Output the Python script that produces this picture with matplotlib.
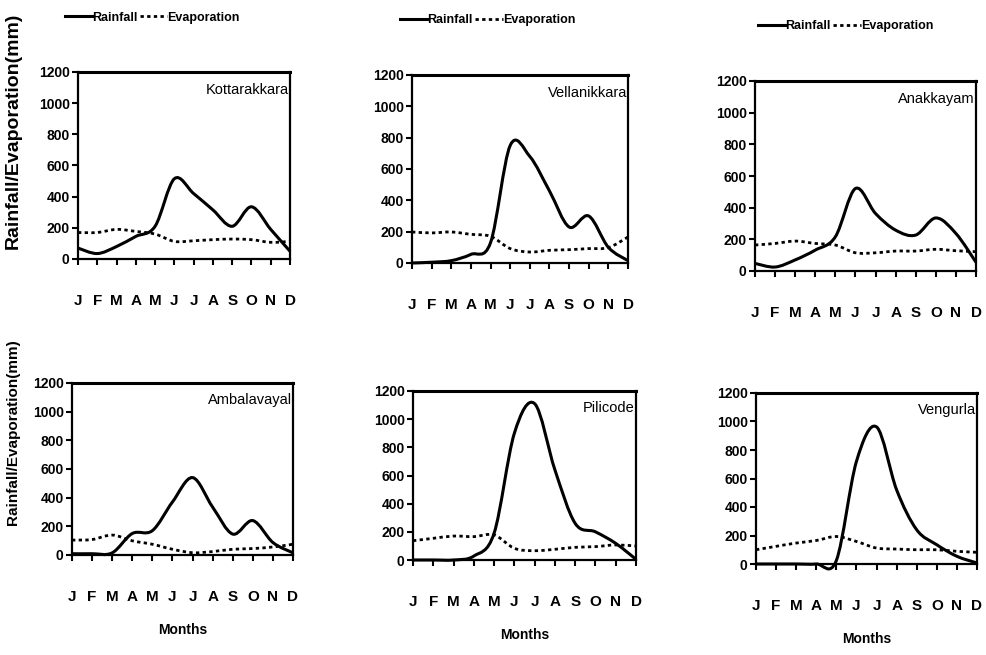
import numpy as np
import matplotlib
matplotlib.use("Agg")
import matplotlib.pyplot as plt
from matplotlib.path import Path
from matplotlib.patches import PathPatch
from matplotlib.lines import Line2D

plt.rcParams['font.family'] = ['Liberation Sans', 'DejaVu Sans']

months = ["J", "F", "M", "A", "M", "J", "J", "A", "S", "O", "N", "D"]
stations = ["Kottarakkara", "Vellanikkara", "Anakkayam",
            "Ambalavayal", "Pilicode", "Vengurla"]

# monthly means (mm)
rain_kottarakkara = [70, 35, 80, 145, 210, 515, 420, 315, 210, 335, 190, 50]
evap_kottarakkara = [170, 170, 190, 177, 160, 113, 117, 124, 128, 124, 107, 113]
rain_vellanikkara = [0, 5, 15, 55, 130, 750, 680, 460, 230, 300, 100, 15]
evap_vellanikkara = [198, 192, 198, 183, 170, 92, 70, 81, 85, 92, 98, 166]
rain_anakkayam = [48, 25, 70, 132, 216, 521, 363, 258, 227, 335, 237, 55]
evap_anakkayam = [164, 174, 189, 174, 164, 115, 115, 126, 126, 137, 128, 122]
rain_ambalavayal = [9, 9, 15, 150, 170, 370, 540, 334, 146, 240, 87, 15]
evap_ambalavayal = [104, 108, 139, 99, 75, 40, 16, 24, 40, 45, 56, 75]
rain_pilicode = [0, 0, 0, 28, 190, 900, 1110, 640, 260, 200, 118, 5]
evap_pilicode = [137, 154, 170, 166, 178, 83, 66, 76, 90, 95, 107, 99]
rain_vengurla = [0, 0, 0, 0, 25, 720, 962, 520, 240, 135, 54, 7]
evap_vengurla = [100, 124, 147, 165, 193, 158, 112, 105, 100, 100, 89, 82]

rain = [rain_kottarakkara, rain_vellanikkara, rain_anakkayam,
        rain_ambalavayal, rain_pilicode, rain_vengurla]
evap = [evap_kottarakkara, evap_vellanikkara, evap_anakkayam,
        evap_ambalavayal, evap_pilicode, evap_vengurla]

# axes boxes in pixels (left, top, right, bottom) measured on the original
W, H = 986, 655
boxes = [(78, 72, 290, 259), (412, 75, 628, 263), (755, 81, 976, 271),
         (72, 383, 293, 555), (413, 391, 636, 560), (756, 393, 977, 564)]
legend_x = [0.35, 0.35, 0.41]

dotted = (0, (1.2, 1.2))


# Excel-like smoothed line through the points (cubic bezier segments)
def smooth_path(x, y):
    n = len(x)
    verts = [(x[0], y[0])]
    codes = [Path.MOVETO]
    for i in range(n - 1):
        xa, ya = (x[i - 1], y[i - 1]) if i > 0 else (x[i], y[i])
        xb, yb = (x[i + 2], y[i + 2]) if i + 2 < n else (x[i + 1], y[i + 1])
        c1 = (x[i] + (x[i + 1] - xa) / 6.0, y[i] + (y[i + 1] - ya) / 6.0)
        c2 = (x[i + 1] - (xb - x[i]) / 6.0, y[i + 1] - (yb - y[i]) / 6.0)
        verts += [c1, c2, (x[i + 1], y[i + 1])]
        codes += [Path.CURVE4] * 3
    return Path(verts, codes)


fig = plt.figure(figsize=(W / 100, H / 100), dpi=100)
x = np.arange(12)

for k in range(6):
    l, t, r, b = boxes[k]
    ax = fig.add_axes([l / W, 1 - b / H, (r - l) / W, (b - t) / H])
    ax.add_patch(PathPatch(smooth_path(x, rain[k]), fill=False, color='black',
                           lw=2.2, clip_on=False))
    ax.add_patch(PathPatch(smooth_path(x, evap[k]), fill=False, color='black',
                           lw=2.0, ls=dotted, clip_on=False))
    ax.set_xlim(0, 11)
    ax.set_ylim(0, 1200)
    ax.set_yticks(range(0, 1201, 200))
    ax.set_xticks(x)
    ax.set_xticklabels(months, fontsize=11, fontweight='bold')
    for lab in ax.get_yticklabels():
        lab.set_fontweight('bold')
        lab.set_fontsize(10)
    ax.tick_params(axis='x', direction='out', length=4, width=1.5, pad=21)
    ax.tick_params(axis='y', direction='out', length=4, width=1.5, pad=2)
    for s in ax.spines.values():
        s.set_linewidth(1.6)
    ax.spines['top'].set_linewidth(2.2)
    ax.text(0.995, 0.94, stations[k], transform=ax.transAxes, ha='right',
            va='top', fontsize=10.5)

    if k < 3:
        handles = [Line2D([], [], color='black', lw=2.2),
                   Line2D([], [], color='black', lw=2.0, ls=dotted)]
        ax.legend(handles, ["Rainfall", "Evaporation"], loc='center',
                  bbox_to_anchor=(legend_x[k], 1.29), ncol=2, frameon=False,
                  handlelength=2.2, handletextpad=0.0, columnspacing=0.2,
                  prop={'weight': 'bold', 'size': 9})
    else:
        ax.set_xlabel("Months", fontsize=10, fontweight='bold', labelpad=14)

fig.text(0.013, 1 - 131 / H, "Rainfall/Evaporation(mm)", rotation=90,
         ha='center', va='center', fontsize=14, fontweight='bold')
fig.text(0.013, 1 - 432 / H, "Rainfall/Evaporation(mm)", rotation=90,
         ha='center', va='center', fontsize=11, fontweight='bold')

fig.savefig("out.png", dpi=100)
